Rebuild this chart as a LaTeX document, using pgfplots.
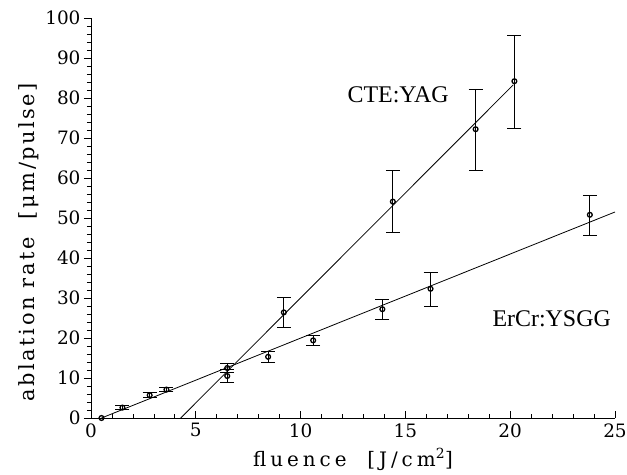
\documentclass[border=0pt]{standalone}
\usepackage{fontspec}
\setmainfont{DejaVu Serif}
\newfontfamily\tnr{Liberation Serif}
\usepackage{pgfplots}
\pgfplotsset{compat=1.18}

\begin{document}
\begin{tikzpicture}
\useasboundingbox (-91bp,-57bp) rectangle (536bp,418bp);
\begin{axis}[
  anchor=south west, at={(0,0)},
  scale only axis, width=524bp, height=400bp,
  xmin=0, xmax=25, ymin=0, ymax=100,
  axis lines*=left,
  axis line style={line width=0.8pt},
  xtick={0,5,...,25}, ytick={0,10,...,100},
  minor x tick num=4, minor y tick num=4,
  xtick align=inside, ytick align=outside,
  major tick length=7bp, minor tick length=4bp,
  every tick/.style={black, line width=0.7pt},
  /pgf/number format/assume math mode=true,
  tick label style={font=\fontsize{18.5}{20}\selectfont},
  xticklabel style={yshift=-2bp},
  xlabel={fluence\ \ [J/cm\textsuperscript{2}]},
  ylabel={ablation\ rate\ \ [μm/pulse]},
  xlabel style={font=\fontsize{20}{22}\selectfont\addfontfeature{LetterSpace=20}, yshift=-4bp},
  ylabel style={font=\fontsize{21}{23}\selectfont\addfontfeature{LetterSpace=12}, at={(ticklabel cs:0.44)}},
  clip=false,
  error bars/error bar style={line width=0.8pt},
  error bars/error mark options={rotate=90, line width=0.8pt, mark size=7bp},
]
% ErCr:YSGG
\addplot[only marks, mark=o, mark size=2.4bp, mark options={line width=1.3pt},
  error bars/.cd, y dir=both, y explicit]
  coordinates {
    (0.5,  0.0)
    (1.5,  2.6)  += (0,0.5) -= (0,0.5)
    (2.8,  5.7)  += (0,0.6) -= (0,0.6)
    (3.6,  7.1)  += (0,0.5) -= (0,0.5)
    (6.5, 12.5)  += (0,1.2) -= (0,1.2)
    (8.45,15.3)  += (0,1.3) -= (0,1.3)
    (10.6,19.4)  += (0,1.3) -= (0,1.3)
    (13.9,27.2)  += (0,2.4) -= (0,2.5)
    (16.2,32.3)  += (0,4.2) -= (0,4.3)
    (23.8,50.8)  += (0,4.8) -= (0,5.2)
  };
% CTE:YAG
\addplot[only marks, mark=o, mark size=2.4bp, mark options={line width=1.3pt},
  error bars/.cd, y dir=both, y explicit]
  coordinates {
    (6.5, 10.5)  += (0,1.6) -= (0,1.5)
    (9.2, 26.4)  += (0,3.8) -= (0,3.7)
    (14.4,54.1)  += (0,7.7) -= (0,7.7)
    (18.35,72.2) += (0,10.0) -= (0,10.2)
    (20.2,84.2)  += (0,11.5) -= (0,11.8)
  };
% fitted lines
\addplot[no marks, line width=0.8pt] coordinates {(0.5,0) (25,51.5)};
\addplot[no marks, line width=0.8pt] coordinates {(4.28,0) (20.15,83.3)};
\node[font=\tnr\fontsize{24}{26}\selectfont] at (axis cs:14.65,80.8) {CTE:YAG};
\node[font=\tnr\fontsize{24}{26}\selectfont] at (axis cs:21.98,24.9) {ErCr:YSGG};
\end{axis}
\end{tikzpicture}
\end{document}
